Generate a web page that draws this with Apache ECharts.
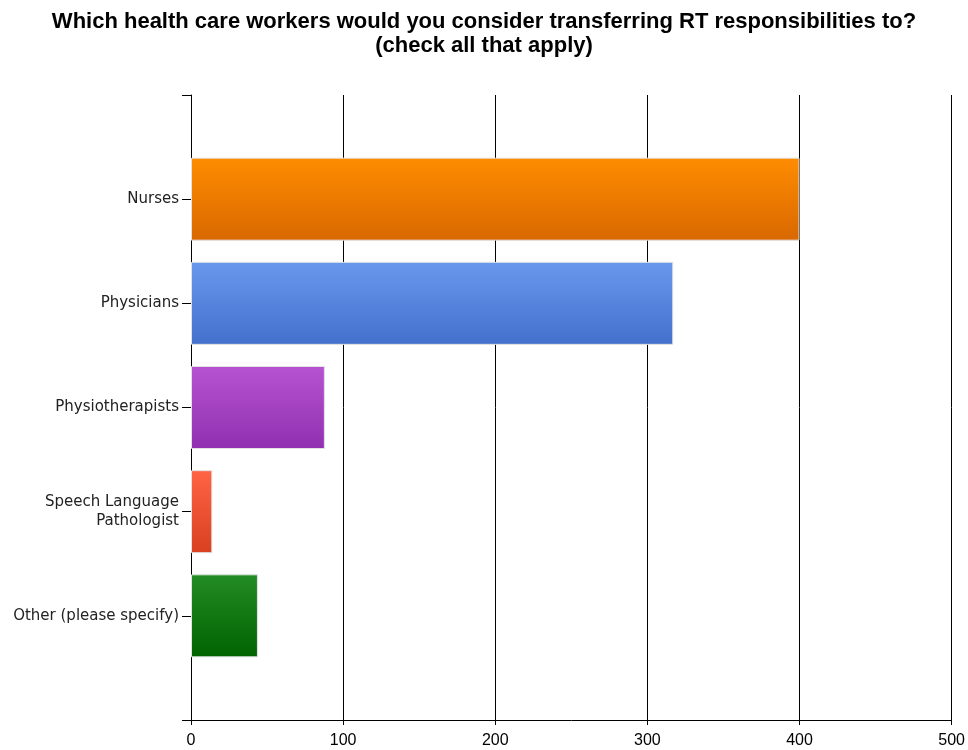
<!DOCTYPE html>
<html><head><meta charset="utf-8">
<script src="https://cdn.jsdelivr.net/npm/echarts@6/dist/echarts.min.js"></script>
<style>html,body{margin:0;padding:0;background:#fff}#c{width:968px;height:750px}</style>
</head><body><div id="c"></div>
<script>
var categories = ['Nurses', 'Physicians', 'Physiotherapists', 'Speech Language\nPathologist', 'Other (please specify)'];
var values = [400, 317, 88, 14, 44];
var topColors = ['#ff8c00', '#6a98ee', '#b653d2', '#ff6445', '#238c23'];
var bottomColors = ['#d86800', '#4270cc', '#9030b0', '#d84020', '#006300'];
var xTicks = [0, 100, 200, 300, 400, 500];

var cats = [''].concat(categories).concat(['']);
var data = ['-'];
values.forEach(function (v, i) {
  data.push({
    value: v,
    itemStyle: {
      color: new echarts.graphic.LinearGradient(0, 0, 0, 1, [
        { offset: 0, color: topColors[i] },
        { offset: 1, color: bottomColors[i] }
      ]),
      borderColor: '#e2e2e2',
      borderWidth: 1
    }
  });
});
data.push('-');

var chart = echarts.init(document.getElementById('c'));
chart.setOption({
  animation: false,
  title: {
    text: 'Which health care workers would you consider transferring RT responsibilities to?\n(check all that apply)',
    left: 'center',
    top: 5,
    textStyle: { fontFamily: 'Liberation Sans, Arial', fontSize: 22, fontWeight: 'bold', color: '#000', lineHeight: 24, align: 'center' }
  },
  grid: { left: 191, right: 16, top: 95, bottom: 30, containLabel: false },
  xAxis: {
    type: 'value',
    min: xTicks[0],
    max: xTicks[xTicks.length - 1],
    interval: 100,
    axisLine: { show: true, lineStyle: { color: '#000', width: 1 } },
    axisTick: { show: true, length: 5, lineStyle: { color: '#000' } },
    splitLine: { show: true, lineStyle: { color: '#000', width: 1 } },
    axisLabel: { color: '#000', fontFamily: 'Liberation Sans, Arial', fontSize: 16, margin: 13 }
  },
  yAxis: {
    type: 'category',
    data: cats,
    inverse: true,
    boundaryGap: false,
    axisLine: { show: true, lineStyle: { color: '#000', width: 1 } },
    axisTick: { show: true, length: 9, interval: 0, lineStyle: { color: '#000' } },
    axisLabel: { interval: 0, color: '#222', fontFamily: 'DejaVu Sans, Liberation Sans', fontSize: 15, margin: 12, lineHeight: 19, align: 'right' },
    splitLine: { show: false }
  },
  series: [{
    type: 'bar',
    data: data,
    barWidth: 83,
    silent: true
  }]
});
</script>
</body></html>
